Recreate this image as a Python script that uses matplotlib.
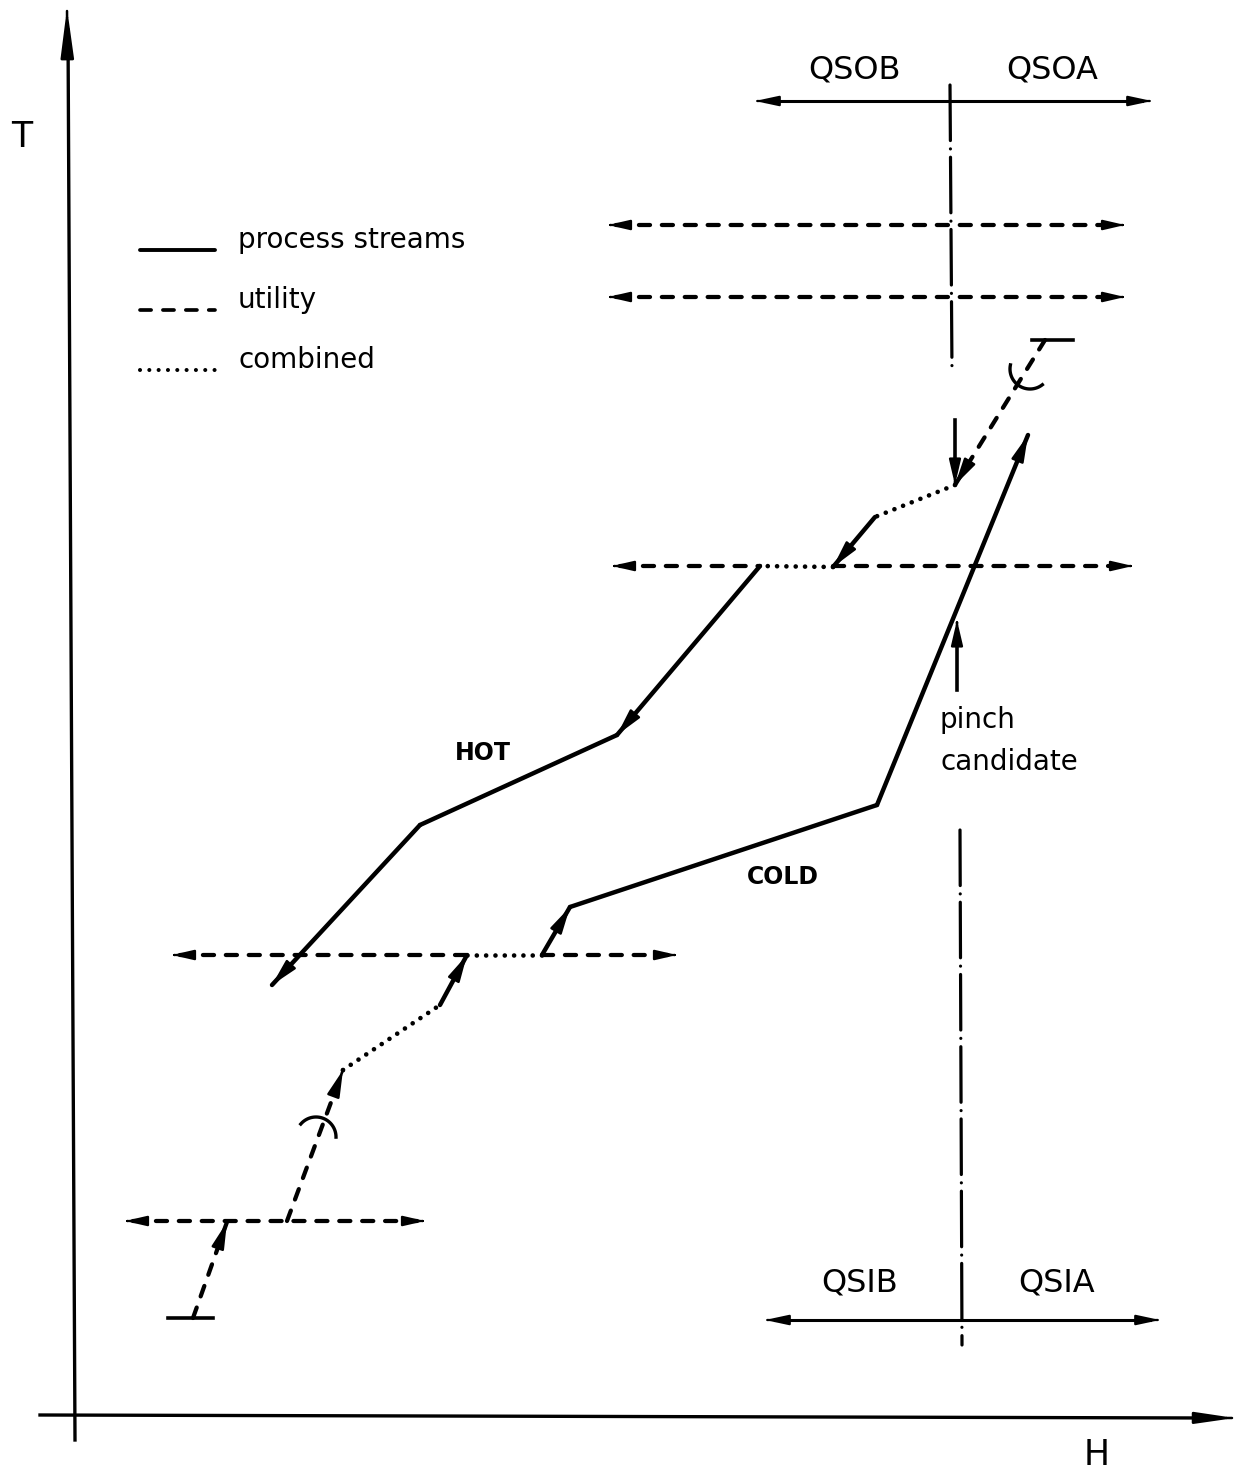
import numpy as np
import matplotlib
matplotlib.use('Agg')
import matplotlib.pyplot as plt

plt.rcParams['lines.scale_dashes'] = False
plt.rcParams['font.family'] = ['DejaVu Sans']

# ---------------- data (H, T in drawing units; T axis grows downward in these units) ----
hot_H = [955, 875, 833, 760, 617, 420, 272]
hot_T = [485, 517, 567, 566, 735, 825, 985]
hot_style = ['dotted', 'solid', 'dotted', 'solid', 'solid', 'solid']
hot_arrow = [False, True, False, True, False, True]

cold_H = [193, 227, 287, 343, 440, 467, 542, 570, 877, 1028]
cold_T = [1318, 1222, 1221, 1070, 1005, 955, 955, 907, 805, 435]
cold_style = ['dashed', 'none', 'dashed', 'dotted', 'solid', 'dotted', 'solid', 'solid', 'solid']
cold_arrow = [True, False, True, False, True, False, True, False, True]

hot_util_H = [1045, 955]
hot_util_T = [340, 485]
hot_tick_H = [1032, 1073]
hot_tick_T = 340
cold_tick_H = [168, 213]
cold_tick_T = 1318

util_T = [225, 297, 566, 955, 1221]
util_H0 = [608, 608, 612, 172, 125]
util_H1 = [1125, 1125, 1133, 677, 425]
util_gap0 = [None, None, 760, 468, None]
util_gap1 = [None, None, 833, 542, None]

# cut marks (arc centre, radius)
arc_H = [1030, 316]
arc_T = [369, 1137]
arc_R = [20, 20]

legend_labels = ['process streams', 'utility', 'combined']
legend_styles = ['solid', 'dashed', 'dotted']
legend_T = [250, 310, 370]

# ---------------- figure ----------------
fig = plt.figure(figsize=(12.37, 14.76), dpi=100)
ax = fig.add_axes([0, 0, 1, 1])
ax.set_xlim(0, 1237)
ax.set_ylim(1476, 0)
ax.axis('off')

LW = 3.2
DASH = (8, 8.5)
DOT = (0.01, 6.7)


def style_kw(st, lw=LW):
    if st == 'solid':
        return dict(color='k', lw=lw, solid_capstyle='round', solid_joinstyle='round')
    if st == 'dashed':
        return dict(color='k', lw=lw * 0.95, dashes=DASH, dash_capstyle='round')
    if st == 'dotted':
        return dict(color='k', lw=lw * 1.05, dashes=DOT, dash_capstyle='round')


def head(x0, y0, x1, y1, hl=1.6, hw=0.38, lw=1.8):
    d = np.hypot(x1 - x0, y1 - y0)
    ux, uy = (x1 - x0) / d, (y1 - y0) / d
    ax.annotate('', xy=(x1, y1), xytext=(x1 - ux * 3, y1 - uy * 3),
                arrowprops=dict(arrowstyle=f'-|>,head_length={hl},head_width={hw}',
                                color='k', lw=lw, shrinkA=0, shrinkB=0,
                                mutation_scale=10))


def draw_chain(Hs, Ts, styles, arrows):
    for i, st in enumerate(styles):
        if st == 'none':
            continue
        ax.plot(Hs[i:i + 2], Ts[i:i + 2], **style_kw(st))
        if arrows[i]:
            head(Hs[i], Ts[i], Hs[i + 1], Ts[i + 1])


# axes
ax.plot([75, 68], [1440, 30], color='k', lw=2.4)
head(75, 1440, 67, 8, hl=3.0, hw=0.4, lw=1.8)
ax.plot([40, 1210], [1415, 1418], color='k', lw=2.4)
head(40, 1415, 1235, 1418, hl=2.4, hw=0.35, lw=1.8)
ax.text(22, 137, 'T', fontsize=25, ha='center', va='center')
ax.text(1097, 1455, 'H', fontsize=25, ha='center', va='center')

# legend
for lab, st, ty in zip(legend_labels, legend_styles, legend_T):
    ax.plot([140, 215], [ty, ty], **style_kw(st, lw=2.8))
    ax.text(238, ty - 10, lab, fontsize=20, ha='left', va='center')

# utility horizontal lines
for t, h0, h1, g0, g1 in zip(util_T, util_H0, util_H1, util_gap0, util_gap1):
    if g0 is None:
        ax.plot([h0 + 8, h1 - 8], [t, t], **style_kw('dashed'))
    else:
        ax.plot([h0 + 8, g0], [t, t], **style_kw('dashed'))
        ax.plot([g1, h1 - 8], [t, t], **style_kw('dashed'))
    head(h1 - 10, t, h0, t, hl=1.3, hw=0.3, lw=1.6)
    head(h0 + 10, t, h1, t, hl=1.3, hw=0.3, lw=1.6)

# hot composite
draw_chain(hot_H, hot_T, hot_style, hot_arrow)
ax.plot(hot_util_H, hot_util_T, **style_kw('dashed'))
head(hot_util_H[0], hot_util_T[0], hot_util_H[1], hot_util_T[1])
ax.plot(hot_tick_H, [hot_tick_T] * 2, color='k', lw=2.6)

# cold composite
draw_chain(cold_H, cold_T, cold_style, cold_arrow)
ax.plot(cold_tick_H, [cold_tick_T] * 2, color='k', lw=2.6)

# cut marks (arcs across utility lines)
dirs = [(hot_util_H[1] - hot_util_H[0], hot_util_T[1] - hot_util_T[0]),
        (cold_H[3] - cold_H[2], cold_T[3] - cold_T[2])]
for cx, cy, r, (dx, dy) in zip(arc_H, arc_T, arc_R, dirs):
    a0 = np.arctan2(dy, dx)
    th = np.linspace(a0 - np.radians(70), a0 + np.radians(70), 40)
    ax.plot(cx + r * np.cos(th), cy + r * np.sin(th), color='k', lw=2.4)

# QSO / QSI markers
ax.plot([950, 952], [85, 372], color='k', lw=2.3, dashes=(40, 6, 0.01, 6),
        dash_capstyle='round')
ax.plot([960, 962], [830, 1345], color='k', lw=2.3, dashes=(40, 6, 0.01, 6),
        dash_capstyle='round')
ax.plot([955, 955], [420, 470], color='k', lw=2.6)
head(955, 420, 955, 485, hl=1.5, hw=0.35)
ax.plot([957, 957], [690, 635], color='k', lw=2.6)
head(957, 690, 957, 620, hl=1.5, hw=0.35)

for y, xl, xr, xm in [(101, 755, 1152, 950), (1320, 765, 1160, 962)]:
    ax.plot([xl + 10, xr - 10], [y, y], color='k', lw=2.2)
    head(xm, y, xl, y, hl=1.4, hw=0.3, lw=1.6)
    head(xm, y, xr, y, hl=1.4, hw=0.3, lw=1.6)

ax.text(855, 70, 'QSOB', fontsize=23, ha='center', va='center')
ax.text(1052, 70, 'QSOA', fontsize=23, ha='center', va='center')
ax.text(860, 1283, 'QSIB', fontsize=23, ha='center', va='center')
ax.text(1057, 1283, 'QSIA', fontsize=23, ha='center', va='center')

ax.text(483, 753, 'HOT', fontsize=17, ha='center', va='center', fontweight='bold')
ax.text(783, 877, 'COLD', fontsize=17, ha='center', va='center', fontweight='bold')
ax.text(940, 720, 'pinch', fontsize=20, ha='left', va='center')
ax.text(940, 762, 'candidate', fontsize=20, ha='left', va='center')

fig.savefig('out.png', dpi=100, facecolor='white')
